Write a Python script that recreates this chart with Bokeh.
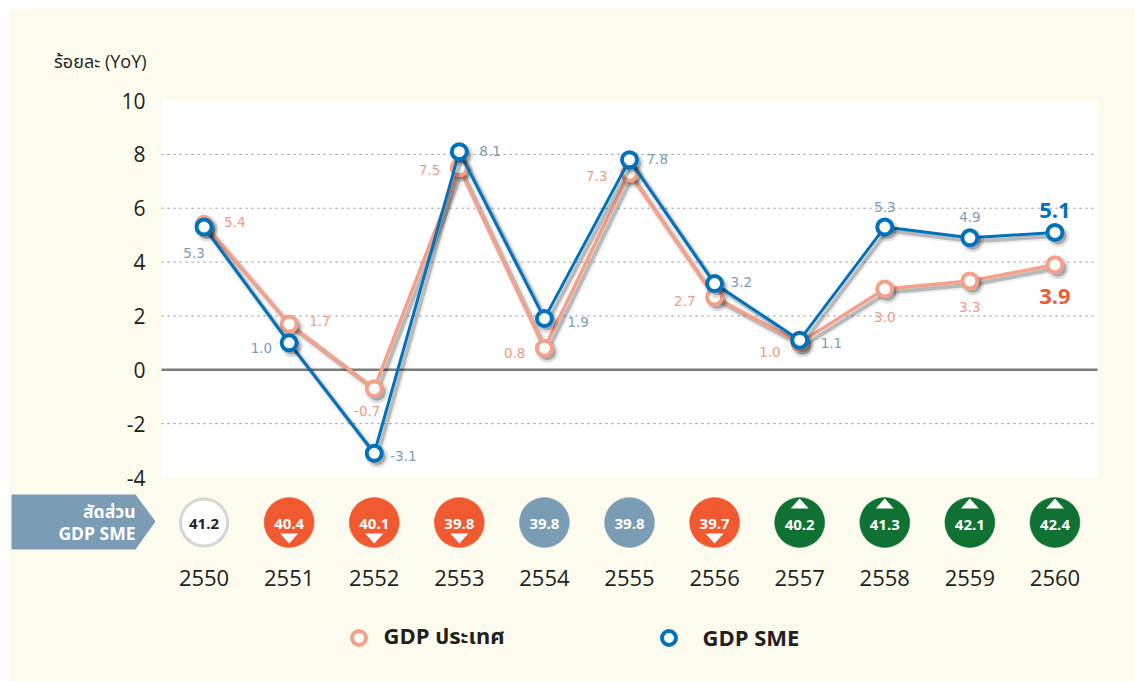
import numpy as np
from bokeh.plotting import figure
from bokeh.models import ColumnDataSource, Range1d, Legend, LegendItem
from bokeh.core.properties import value
from bokeh.embed import file_html
from bokeh.resources import INLINE

# ---------------- data ----------------
years = ["2550", "2551", "2552", "2553", "2554", "2555", "2556", "2557", "2558", "2559", "2560"]
gdp_country = [5.4, 1.7, -0.7, 7.5, 0.8, 7.3, 2.7, 1.0, 3.0, 3.3, 3.9]
gdp_sme = [5.3, 1.0, -3.1, 8.1, 1.9, 7.8, 3.2, 1.1, 5.3, 4.9, 5.1]
sme_share = [41.2, 40.4, 40.1, 39.8, 39.8, 39.8, 39.7, 40.2, 41.3, 42.1, 42.4]
share_change = ["base", "down", "down", "down", "flat", "flat", "down", "up", "up", "up", "up"]
y_ticks = [-4, -2, 0, 2, 4, 6, 8, 10]
grid_ticks = [-2, 2, 4, 6, 8]
series_names = ["GDP ประเทศ", "GDP SME"]
y_title = "ร้อยละ (YoY)"
share_title = ["สัดส่วน", "GDP SME"]

# ---------------- style / layout ----------------
BEIGE = "#fdfbee"
PINK = "#f4a08a"
PINK_TXT = "#f29a80"
PINK_BOLD = "#f05a32"
BLUE = "#0072bc"
BLUE_TXT = "#7b9cb8"
DARK = "#231f20"
ORANGE = "#f15a31"
STEEL = "#7a9db5"
GREEN = "#0f7232"
FONT = "'Open Sans', 'Noto Sans Thai', 'Noto Sans', sans-serif"
NUMFONT = "'DejaVu Sans', sans-serif"

W, H = 1135, 681
n = len(years)
# plot-area placement on the canvas (px)
PL, PR, PT, PB = 161, 1097, 100, 477
PX_X = (PR - PL) / n
PX_Y = (PB - PT) / (max(y_ticks) - min(y_ticks))
x_start = -0.5 - PL / PX_X
y_top = max(y_ticks) + PT / PX_Y

# label placement per point: (dx px, dy px, align)
pink_place = [(20, -2, "left"), (20, -3, "left"), (-7, 22, "center"), (-19, 2, "right"),
              (-19, 5, "right"), (-22, 3, "right"), (-19, 4, "right"), (-19, 9, "right"),
              (0, 28, "center"), (0, 26, "center"), (0, 32, "center")]
blue_place = [(-10, 26, "center"), (-17, 5, "right"), (16, 3, "left"), (20, -1, "left"),
              (23, 3, "left"), (17, -1, "left"), (16, -2, "left"), (21, 3, "left"),
              (0, -20, "center"), (0, -21, "center"), (0, -22, "center")]

idx = np.arange(n)

p = figure(width=W, height=H,
           x_range=Range1d(x_start, x_start + W / PX_X),
           y_range=Range1d(y_top - H / PX_Y, y_top),
           output_backend="svg", toolbar_location=None,
           x_axis_location=None, y_axis_location=None,
           min_border=0, min_border_left=0, min_border_right=0, min_border_top=0, min_border_bottom=0,
           background_fill_color=BEIGE, border_fill_color=BEIGE, outline_line_color=None)
p.grid.visible = False
p.extra_x_ranges = {"px": Range1d(0, W)}
p.extra_y_ranges = {"px": Range1d(H, 0)}

# page margin strips (reference has an 8px white margin on top/left)
p.quad(left=[0, 0], right=[8, W], bottom=[H, 8], top=[0, 0], fill_color="white", line_color=None,
       x_range_name="px", y_range_name="px")

# white plot area
p.quad(left=[-0.5], right=[n - 0.5], bottom=[min(y_ticks)], top=[max(y_ticks)],
       fill_color="white", line_color=None)

# dotted grid and zero line
p.segment(x0=[-0.5] * len(grid_ticks), x1=[n - 0.5] * len(grid_ticks), y0=grid_ticks, y1=grid_ticks,
          line_color="#8c8c8c", line_dash="2 4", line_width=1)
p.segment(x0=[-0.5], x1=[n - 0.5], y0=[0], y1=[0], line_color="#7d7d7d", line_width=2.5)

# y tick labels
p.text(x=[-0.5] * len(y_ticks), y=y_ticks, text=[str(t) for t in y_ticks],
       x_offset=-16, text_align="right", text_baseline="middle",
       text_font=value(FONT), text_font_size="21px", text_color=DARK)
# y title
p.text(x=[146], y=[60], text=[y_title], text_align="right", text_baseline="middle",
       text_font=value(FONT), text_font_size="18px", text_color=DARK,
       x_range_name="px", y_range_name="px")

sdx = 3 / PX_X
sdy = -3.5 / PX_Y

def draw_series(vals, color, lw):
    v = np.array(vals)
    p.line(idx + sdx, v + sdy, line_color="black", line_alpha=0.07, line_width=8)
    p.line(idx + sdx, v + sdy, line_color="black", line_alpha=0.22, line_width=4)
    p.line(idx, v, line_color=color, line_width=lw)
    p.scatter(idx + sdx, v + sdy, size=22, fill_color="black", fill_alpha=0.12, line_color=None)
    p.scatter(idx + sdx, v + sdy, size=17, fill_color="black", fill_alpha=0.25, line_color=None)
    return p.scatter(idx, v, size=15, fill_color="white", line_color=color, line_width=4)

r_country = draw_series(gdp_country, PINK, 3.5)
r_sme = draw_series(gdp_sme, BLUE, 3)

def draw_labels(vals, place, color, bold_color):
    src = ColumnDataSource(dict(
        x=idx[:-1], y=vals[:-1], text=[f"{v:.1f}" for v in vals[:-1]],
        dx=[pl[0] for pl in place[:-1]], dy=[pl[1] for pl in place[:-1]],
        align=[pl[2] for pl in place[:-1]]))
    p.text(x="x", y="y", text="text", x_offset="dx", y_offset="dy", text_align="align",
           text_baseline="middle", text_font=value(NUMFONT), text_font_size="13.5px",
           text_color=color, source=src)
    last = ColumnDataSource(dict(x=idx[-1:], y=vals[-1:], text=[f"{vals[-1]:.1f}"],
                                 dy=[place[-1][1]]))
    p.text(x="x", y="y", text="text", y_offset="dy", text_align="center",
           text_baseline="middle", text_font=value(FONT), text_font_size="22px",
           text_font_style="bold", text_color=bold_color, source=last)

draw_labels(gdp_country, pink_place, PINK_TXT, PINK_BOLD)
draw_labels(gdp_sme, blue_place, BLUE_TXT, BLUE)

# ---------------- share strip ----------------
ax = [11, 135, 155, 135, 11]
ay = [494, 494, 521, 549, 549]
p.patch(ax, ay, fill_color=STEEL, line_color=None, x_range_name="px", y_range_name="px")
p.text(x=[135, 135], y=[510, 532], text=share_title, text_align="right",
       text_baseline="middle", text_font=value(FONT), text_font_size="17.5px",
       text_font_style="bold", text_color="white", x_range_name="px", y_range_name="px")

CY = 522
fill_map = {"base": "white", "down": ORANGE, "flat": STEEL, "up": GREEN}
line_map = {"base": "#d5d5d5", "down": ORANGE, "flat": STEEL, "up": GREEN}
csrc = ColumnDataSource(dict(
    x=idx, y=[CY] * n,
    fill=[fill_map[s] for s in share_change],
    line=[line_map[s] for s in share_change],
    lw=[3 if s == "base" else 0.5 for s in share_change],
    size=[47 if s == "base" else 50 for s in share_change],
    text=[f"{v:.1f}" for v in sme_share],
    tcol=[DARK if s == "base" else "white" for s in share_change],
    ty=[CY + (2 if s == "up" else 1) for s in share_change]))
p.scatter(x="x", y="y", size="size", fill_color="fill", line_color="line", line_width="lw",
          source=csrc, y_range_name="px")
p.text(x="x", y="ty", text="text", text_color="tcol", text_align="center", text_baseline="middle",
       text_font=value(FONT), text_font_size="15px", text_font_style="bold", source=csrc,
       y_range_name="px")

# change arrows
tw = 9 / PX_X
txs, tys = [], []
for i, s in enumerate(share_change):
    if s == "down":
        txs.append([i - tw, i + tw, i]); tys.append([CY + 11, CY + 11, CY + 21])
    elif s == "up":
        txs.append([i - tw, i + tw, i]); tys.append([CY - 14, CY - 14, CY - 24])
p.patches(txs, tys, fill_color="white", line_color=None, y_range_name="px")

# year labels
p.text(x=idx, y=[577] * n, text=years, text_align="center", text_baseline="middle",
       text_font=value(FONT), text_font_size="22px", text_color=DARK, y_range_name="px")

# legends
for r, name, cx, standoff in [(r_country, series_names[0], 358, 8), (r_sme, series_names[1], 668, 17)]:
    lg = Legend(items=[LegendItem(label=name, renderers=[r])],
                location=(cx - 17.5, H - 637 - 17.5),
                glyph_width=35, glyph_height=35, label_standoff=standoff, padding=0, margin=0,
                border_line_color=None, background_fill_alpha=0,
                label_text_font=FONT, label_text_font_size="22px", label_text_font_style="bold",
                label_text_color=DARK)
    p.add_layout(lg)

open("out.html", "w").write(file_html(p, INLINE))
